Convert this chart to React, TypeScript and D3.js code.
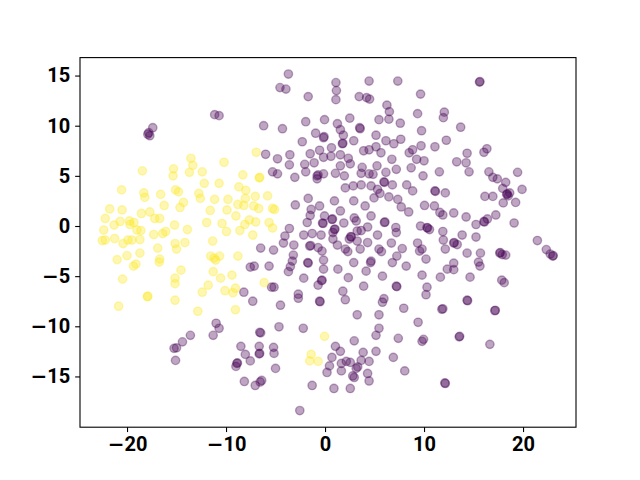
import React, { useEffect, useRef } from "react";
import * as d3 from "d3";

// class 0 (viridis purple)
const purplePoints: [number, number][] = [
  [-17.4, 9.8], [-17.8, 9.3], [-17.7, 9.0], [-17.9, 9.15],
  [-3.7, 15.15], [-4.55, 13.8], [-3.95, 13.65], [-1.7, 12.9], [-11.15, 11.1], [-10.7, 11.0], [-6.2, 10.0], [-4.3, 9.7],
  [-1.95, 10.4], [-0.05, 10.6], [-0.95, 9.25], [-0.15, 8.8], [-0.1, 8.9], [-2.3, 8.4], [-0.55, 7.55], [-0.15, 6.85],
  [-6.0, 7.15], [-4.8, 6.7], [-3.55, 7.1], [-3.6, 6.1], [-2.05, 6.15], [-1.5, 7.2], [-1.1, 6.3], [-5.3, 5.4], [-4.8, 5.2],
  [-3.05, 4.85], [-1.95, 5.4], [-0.7, 5.1], [-0.8, 5.0], [-0.15, 5.2], [-0.8, 4.7],
  [1.1, 14.3], [1.15, 13.5], [1.1, 12.6], [4.45, 14.45], [7.35, 14.45], [3.45, 12.9], [4.2, 12.8], [4.5, 12.65], [9.65, 13.15],
  [6.25, 12.05], [6.5, 11.4], [6.45, 10.65], [5.45, 10.6], [7.6, 10.25], [9.35, 11.2], [12.05, 11.35], [11.95, 10.8], [2.5, 10.75],
  [1.25, 10.2], [1.55, 9.6], [1.85, 9.05], [3.5, 9.8], [3.55, 9.7], [9.75, 9.5], [5.15, 9.05], [2.9, 8.5], [6.15, 8.5], [6.95, 8.2],
  [7.65, 8.65], [12.25, 8.55], [1.75, 8.2], [1.8, 8.25], [0.65, 7.8], [3.9, 7.5], [4.45, 7.6], [5.15, 7.9], [5.65, 7.3], [8.85, 7.6],
  [8.5, 7.3], [9.7, 8.0], [11.1, 7.9], [9.25, 6.65], [10.0, 6.5], [6.75, 6.65], [0.6, 6.95], [1.55, 7.1], [2.35, 6.75], [2.55, 6.2],
  [1.55, 6.0], [1.05, 5.25], [1.95, 5.0], [3.75, 5.85], [3.65, 5.25], [4.45, 5.2], [4.85, 5.15], [5.25, 6.0], [6.15, 5.35], [7.2, 5.65],
  [8.7, 5.8], [9.9, 5.0], [11.55, 5.4],
  [15.6, 14.35], [15.65, 14.4], [13.7, 9.85], [16.35, 7.7], [16.05, 7.35], [14.35, 7.25], [13.3, 6.4], [14.25, 6.3], [14.55, 5.4],
  [16.55, 5.4], [16.95, 4.85], [17.4, 4.7], [18.25, 4.35], [19.45, 5.35],
  [-3.0, 2.1], [-1.7, 2.75], [-0.55, 2.0], [-1.4, 1.65], [-1.5, 1.05], [-1.8, 0.35], [-0.2, 0.25], [-0.25, 0.3], [-0.05, 1.0],
  [-3.6, -0.25], [-4.05, -1.0], [-2.15, -0.9], [-1.3, -0.75], [-0.4, -0.9], [-4.2, -1.7], [-3.15, -1.9], [-1.55, -2.0], [-1.45, -1.95],
  [-0.7, -2.15], [-0.3, -2.5], [-5.2, -2.4], [-6.5, -2.2], [-3.2, -2.9], [-3.3, -3.5], [-3.5, -4.05], [-3.7, -4.55], [-1.7, -3.7],
  [-1.75, -3.65], [-0.15, -3.4], [-0.15, -4.3], [-5.65, -4.0], [-7.55, -4.1], [-7.15, -4.0], [-2.15, -5.2], [-0.3, -5.4], [-0.35, -5.45],
  [-0.7, -5.9], [-5.4, -6.1], [-5.15, -6.1], [-8.2, -6.6], [-2.7, -6.8], [-2.7, -7.2], [-7.3, -7.5], [-4.5, -7.9], [-0.55, -7.5], [-0.5, -7.55],
  [2.05, 3.8], [2.85, 4.0], [3.65, 4.1], [4.65, 4.0], [5.3, 3.65], [5.55, 3.25], [5.95, 4.4], [6.0, 4.35], [6.8, 4.1], [8.25, 4.1],
  [8.85, 3.5], [11.1, 3.5], [11.15, 3.45], [12.15, 3.3], [0.95, 2.5], [2.9, 2.5], [4.05, 2.0], [4.95, 2.8], [6.45, 2.9], [7.35, 2.65],
  [7.7, 1.9], [8.45, 1.4], [10.05, 2.05], [11.05, 2.0], [11.6, 1.35], [11.9, 1.1], [1.55, 1.5], [0.7, 0.65], [0.75, 0.7], [1.9, 0.3],
  [2.95, 0.8], [3.15, 0.5], [4.65, 1.0], [6.05, 0.4], [6.0, 0.35], [4.3, -0.1], [3.65, -0.45], [3.25, -0.5], [0.95, -0.35], [1.0, -0.3],
  [0.8, -0.65], [2.65, -1.1], [2.6, -1.05], [2.45, -1.3], [5.3, -0.9], [7.15, -0.15], [7.2, -0.65], [9.65, 0.0], [10.3, -0.15],
  [10.35, -0.2], [10.55, -0.35], [11.9, -0.55], [11.95, -1.4], [12.15, -2.3], [9.35, -1.7], [9.55, -2.5], [9.8, -2.3], [6.7, -1.7],
  [4.3, -1.65], [3.25, -1.5], [0.8, -1.3], [1.25, -1.9], [2.05, -2.3], [2.3, -2.55], [3.55, -2.3], [5.45, -2.3], [5.7, -2.55],
  [7.8, -2.25], [7.25, -3.0], [6.8, -3.65], [8.2, -4.0], [4.65, -3.5], [4.6, -3.65], [2.9, -3.65], [4.15, -4.5], [5.8, -5.0],
  [2.35, -5.15], [1.3, -4.3], [10.2, -3.3], [9.8, -4.9], [11.65, -5.1], [12.35, -4.3], [3.9, -6.0], [7.2, -6.0], [7.25, -6.05],
  [10.3, -6.1], [10.2, -6.85], [1.8, -6.5], [2.05, -7.35], [5.95, -7.25], [5.8, -7.6],
  [17.95, 3.75], [19.9, 3.65], [18.65, 3.3], [18.35, 3.15], [18.4, 3.2], [18.5, 3.0], [16.15, 2.95], [16.95, 2.95], [18.0, 2.3],
  [19.25, 2.35], [13.0, 1.3], [14.25, 0.9], [15.25, 0.15], [16.05, 0.45], [16.1, 0.4], [16.4, 0.7], [17.25, 1.1], [19.1, 0.3],
  [13.85, -0.9], [15.25, -1.1], [13.0, -1.7], [13.05, -1.65], [13.35, -1.85], [21.45, -1.45], [22.35, -2.35], [22.75, -2.8],
  [23.0, -3.0], [23.05, -2.95], [14.35, -2.7], [15.7, -2.7], [17.65, -2.7], [17.7, -2.65], [17.9, -2.85], [18.25, -2.9],
  [15.5, -3.6], [15.65, -4.0], [13.0, -3.7], [13.0, -4.35], [14.65, -5.1], [17.85, -5.4], [18.1, -5.65], [14.35, -7.4], [14.4, -7.45],
  [-13.6, -10.9], [-14.4, -11.55], [-15.25, -12.2], [-15.0, -12.15], [-15.1, -13.4],
  [-11.0, -9.7], [-10.7, -10.2], [-11.3, -10.9], [-6.6, -10.6], [-6.5, -10.65], [-4.65, -10.05], [-2.2, -10.2], [-8.5, -12.0],
  [-8.05, -12.8], [-7.55, -13.45], [-8.9, -13.7], [-8.85, -13.65], [-9.0, -14.0], [-6.65, -12.0], [-6.6, -12.7], [-6.65, -12.75],
  [-5.2, -12.1], [-5.15, -12.7], [-5.0, -14.2], [-8.15, -15.5], [-7.05, -15.9], [-6.55, -15.55], [-6.4, -15.4], [-1.3, -15.9], [-2.55, -18.4],
  [7.95, -8.2], [11.8, -8.3], [11.9, -8.25], [3.25, -8.85], [5.45, -8.85], [9.4, -9.6], [5.45, -10.2], [5.15, -10.9], [7.4, -11.2],
  [9.95, -11.3], [9.8, -11.5], [2.95, -11.45], [1.05, -12.0], [1.55, -12.5], [3.85, -12.6], [5.15, -12.5], [0.7, -13.1], [2.15, -13.5],
  [2.55, -13.6], [3.65, -13.4], [4.45, -13.5], [6.9, -13.1], [0.45, -13.95], [1.65, -13.7], [3.3, -14.05], [3.15, -14.2], [1.65, -14.45],
  [0.2, -14.6], [2.8, -14.95], [2.95, -15.1], [4.3, -14.7], [4.45, -15.45], [8.05, -14.45], [0.9, -16.2], [2.55, -16.2], [12.15, -15.7], [12.1, -15.65],
  [17.15, -8.45], [17.2, -8.4], [13.55, -11.05], [13.6, -11.0], [16.65, -11.8],
];

// class 1 (viridis yellow)
const yellowPoints: [number, number][] = [
  [-18.45, 5.5], [-15.3, 5.7], [-15.35, 5.0], [-13.55, 6.75], [-13.35, 6.05], [-13.7, 5.35], [-12.4, 5.4],
  [-6.95, 7.35], [-10.2, 6.35], [-8.3, 5.1], [-6.65, 4.8], [-6.6, 4.85], [-10.7, 4.25], [-12.2, 4.25],
  [-20.55, 3.6], [-18.3, 3.3], [-18.2, 2.85], [-16.6, 3.15], [-15.1, 3.6], [-14.8, 3.4], [-12.75, 3.25], [-12.6, 2.75], [-16.25, 2.05],
  [-14.3, 2.35], [-14.65, 1.85], [-21.75, 1.7], [-20.5, 1.6], [-22.2, 0.75], [-21.3, 0.1], [-20.7, 0.45], [-19.75, 0.5], [-19.7, 0.15],
  [-19.3, 0.35], [-18.55, 1.25], [-17.7, 1.4], [-17.2, 0.75], [-16.7, 0.75], [-19.0, -0.4], [-18.6, -0.45], [-15.2, 0.1], [-13.9, -0.35],
  [-22.35, -0.4], [-22.5, -1.45], [-22.2, -1.4], [-21.25, -1.25], [-20.4, -1.75], [-19.9, -1.4], [-19.5, -1.4], [-18.7, -1.35],
  [-17.3, -0.85], [-16.4, -0.75], [-16.1, -0.55], [-15.15, -1.75], [-15.0, -2.3], [-14.15, -1.65], [-16.9, -2.2], [-18.7, -2.7],
  [-20.0, -2.95], [-21.0, -3.35], [-19.1, -3.8], [-19.35, -4.0], [-16.7, -3.3], [-16.75, -3.6], [-14.55, -4.4], [-20.45, -5.3],
  [-15.15, -5.2], [-15.15, -5.75], [-12.4, -6.6], [-17.95, -7.05], [-17.9, -7.0], [-15.15, -7.4], [-20.85, -8.0],
  [-8.7, 3.9], [-8.0, 3.55], [-11.6, 1.55], [-11.15, 2.65], [-9.8, 2.65], [-9.9, 1.6], [-8.8, 2.15], [-8.2, 2.05], [-8.05, 2.75],
  [-7.05, 2.95], [-5.8, 3.0], [-7.2, 2.0], [-6.7, 1.75], [-5.3, 1.75], [-5.1, 1.65], [-9.0, 1.0], [-7.65, 0.6], [-8.1, 0.15],
  [-7.0, 0.4], [-5.65, 0.35], [-5.3, -0.2], [-10.4, 0.25], [-9.95, -0.55], [-8.6, -0.45], [-7.3, -0.9], [-11.95, 0.35], [-11.35, -1.5],
  [-11.55, -3.0], [-11.05, -3.4], [-10.65, -3.0], [-11.2, -3.2], [-8.8, -3.0], [-11.3, -4.55], [-10.55, -5.2], [-9.4, -4.9],
  [-11.8, -5.9], [-10.1, -6.45], [-9.3, -6.65], [-9.05, -6.2], [-6.15, -5.65],
  [-12.85, -8.5], [-9.05, -8.35], [-0.05, -11.0], [-1.4, -12.8], [-1.55, -13.45], [-0.7, -13.5],
];

const xTicks = [-20, -10, 0, 10, 20];
const yTicks = [-15, -10, -5, 0, 5, 10, 15];

const App = () => {
  const ref = useRef<SVGSVGElement>(null);

  useEffect(() => {
    const width = 640;
    const height = 480;
    const margin = { top: 57.6, right: 64, bottom: 52.8, left: 80 };
    const svg = d3.select(ref.current).attr("width", width).attr("height", height);
    svg.selectAll("*").remove();

    svg.append("rect").attr("width", width).attr("height", height).attr("fill", "white");

    const x = d3.scaleLinear().domain([-24.75, 25.35]).range([margin.left, width - margin.right]);
    const y = d3.scaleLinear().domain([-20.06, 16.79]).range([height - margin.bottom, margin.top]);

    const tick = 4.86;

    const gx = svg
      .append("g")
      .attr("transform", `translate(0,${height - margin.bottom})`)
      .call(d3.axisBottom(x).tickValues(xTicks).tickSize(tick).tickPadding(tick));
    const gy = svg
      .append("g")
      .attr("transform", `translate(${margin.left},0)`)
      .call(d3.axisLeft(y).tickValues(yTicks).tickSize(tick).tickPadding(tick));

    [gx, gy].forEach((g) => {
      g.select(".domain").remove();
      g.selectAll("line").attr("stroke", "black").attr("stroke-width", 1.1);
      g.selectAll<SVGTextElement, number>("text")
        .attr("fill", "black")
        .style("font-family", "Roboto, sans-serif")
        .style("font-weight", "bold")
        .style("font-size", "20px")
        .each(function (d) {
          const t = d3.select(this).text("");
          if (d < 0) t.append("tspan").style("font-family", "'DejaVu Sans'").text("\u2212");
          t.append("tspan").text(String(Math.abs(d)));
        });
    });

    // points
    const plot = svg.append("g");
    const draw = (pts: [number, number][], color: string) => {
      plot
        .append("g")
        .selectAll("circle")
        .data(pts)
        .join("circle")
        .attr("cx", (d) => x(d[0]))
        .attr("cy", (d) => y(d[1]))
        .attr("r", 4.17)
        .attr("fill", color)
        .attr("fill-opacity", 0.35)
        .attr("stroke", color)
        .attr("stroke-opacity", 0.35)
        .attr("stroke-width", 1.39);
    };
    draw(purplePoints, "#440154");
    draw(yellowPoints, "#fde725");

    // spines
    svg
      .append("rect")
      .attr("x", margin.left)
      .attr("y", margin.top)
      .attr("width", width - margin.left - margin.right)
      .attr("height", height - margin.top - margin.bottom)
      .attr("fill", "none")
      .attr("stroke", "black")
      .attr("stroke-width", 1.1);
  }, []);

  return <svg ref={ref} style={{ position: "absolute", left: 0, top: 0 }}></svg>;
};

export default App;
